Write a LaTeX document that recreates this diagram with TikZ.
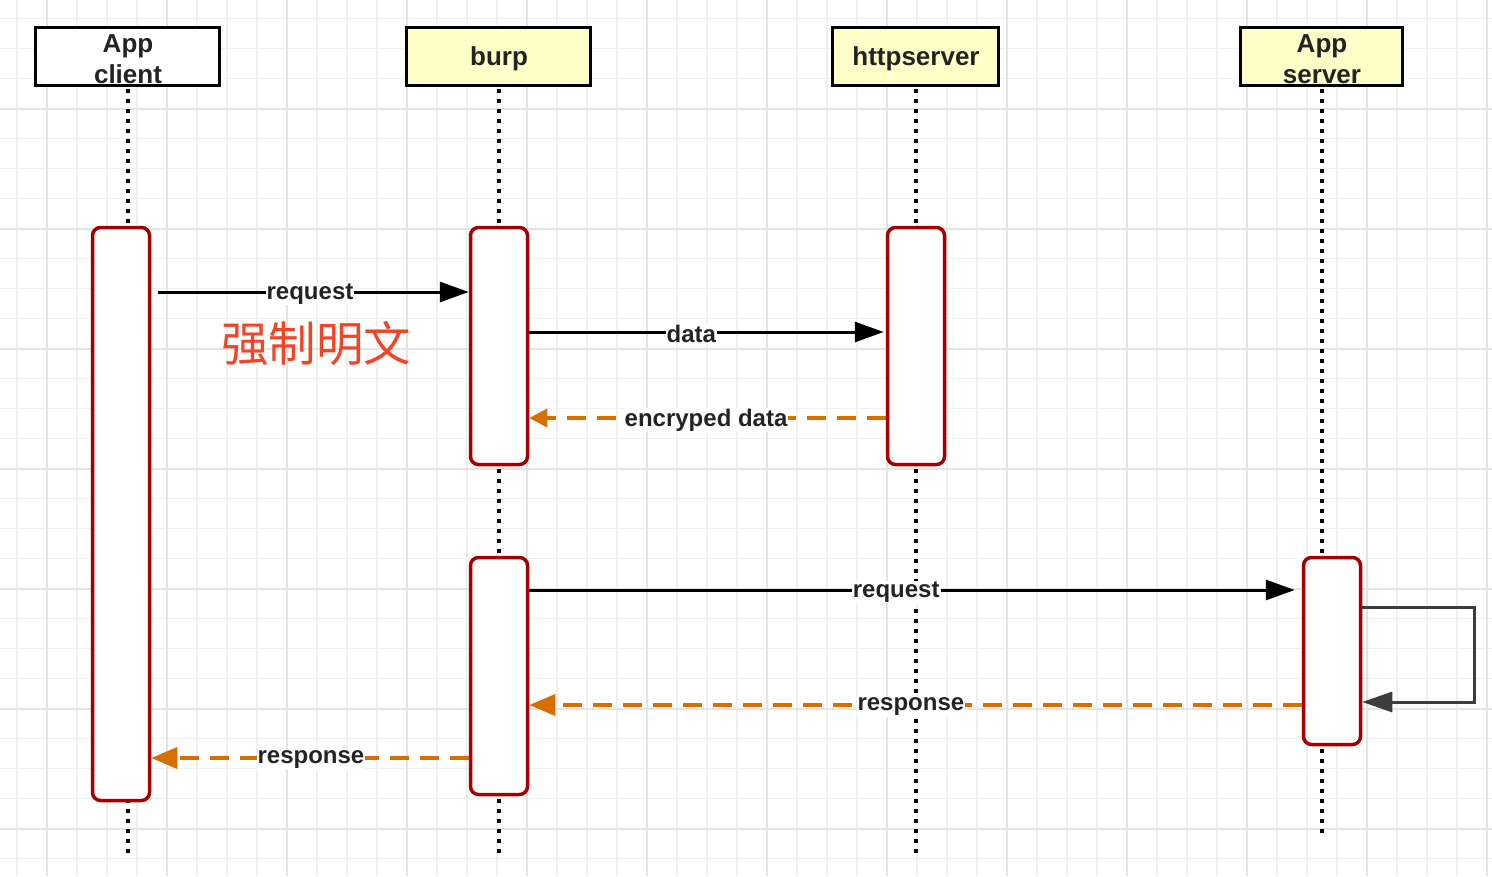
\documentclass[tikz,border=0pt]{standalone}
\usepackage{fontspec}
\setmainfont{Liberation Sans}
\newfontfamily\cjk{Noto Sans CJK SC}
\usetikzlibrary{arrows.meta}
\definecolor{gridminor}{RGB}{240,240,240}
\definecolor{gridmajor}{RGB}{228,228,228}
\definecolor{hdryellow}{RGB}{255,255,200}
\definecolor{actred}{RGB}{165,0,0}
\definecolor{rorange}{RGB}{215,110,0}
\definecolor{txtdark}{RGB}{35,35,35}
\definecolor{loopgrey}{RGB}{60,60,60}
\definecolor{cnred}{RGB}{240,70,40}
\tikzset{
  minorline/.style={draw=gridminor,line width=1.6pt},
  majorline/.style={draw=gridmajor,line width=2pt},
  hdr/.style={draw=black,line width=3.5pt,minimum height=58pt,inner sep=0pt,align=center,
    text=txtdark,font=\bfseries\fontsize{26}{31}\selectfont},
  act/.style={draw=actred,fill=white,line width=3.5pt,rounded corners=8pt,minimum width=57pt,inner sep=0pt},
  life/.style={draw=black,line width=3.5pt,dash pattern=on 3.5pt off 6.5pt},
  msg/.style={draw=black,line width=3pt,-{Triangle[length=29pt,width=20pt]}},
  ret/.style={draw=rorange,line width=3.5pt,dash pattern=on 19pt off 11pt,-{Triangle[length=26pt,width=21pt]}},
  retsmall/.style={draw=rorange,line width=3.5pt,dash pattern=on 19pt off 11pt,-{Triangle[length=18pt,width=18pt]}},
  selfmsg/.style={draw=loopgrey,line width=3pt,-{Triangle[length=30pt,width=20pt]}},
  lbl/.style={fill=white,inner sep=1pt,yshift=-2pt,text=txtdark,font=\bfseries\fontsize{24}{28}\selectfont}
}
\begin{document}
\begin{tikzpicture}[x=1pt,y=-1pt]
\useasboundingbox (0,0) rectangle (1492,876);
\fill[white] (0,0) rectangle (1492,876);
% grid
\foreach \i in {0,...,49} {\draw[minorline] ({16.7+30*\i},0) -- ({16.7+30*\i},876);}
\foreach \i in {0,...,28} {\draw[minorline] (0,{18.5+30*\i}) -- (1492,{18.5+30*\i});}
\foreach \i in {0,...,12} {\draw[majorline] ({46.7+120*\i},0) -- ({46.7+120*\i},876);}
\foreach \i in {0,...,6} {\draw[majorline] (0,{108.5+120*\i}) -- (1492,{108.5+120*\i});}
% headers
\node[hdr,fill=white,minimum width=184pt] (hc) at (127.5,56.5) {};
\node[hdr,fill=hdryellow,minimum width=184pt] (hb) at (498.5,56.5) {};
\node[hdr,fill=hdryellow,minimum width=166pt] (hh) at (915.5,56.5) {};
\node[hdr,fill=hdryellow,minimum width=162pt] (hs) at (1321.5,56.5) {};
\node[text=txtdark,font=\bfseries\fontsize{26}{31}\selectfont,align=center,inner sep=0pt] (tc) at (128,59.5) {App\\client};
\node[text=txtdark,font=\bfseries\fontsize{26}{31}\selectfont,inner sep=0pt] (tb) at (499,58.5) {burp};
\node[text=txtdark,font=\bfseries\fontsize{26}{31}\selectfont,inner sep=0pt] (th) at (916,58.5) {httpserver};
\node[text=txtdark,font=\bfseries\fontsize{26}{31}\selectfont,align=center,inner sep=0pt] (ts) at (1322,59.5) {App\\server};
% lifeline ends
\coordinate (ec) at (128,855);
\coordinate (eb) at (499,855);
\coordinate (eh) at (916,855);
\coordinate (es) at (1322,838);
\draw[life] ([xshift=0.5pt,yshift=-2pt]hc.south) -- (ec);
\draw[life] ([xshift=0.5pt,yshift=-2pt]hb.south) -- (eb);
\draw[life] ([xshift=0.5pt,yshift=-2pt]hh.south) -- (eh);
\draw[life] ([xshift=0.5pt,yshift=-2pt]hs.south) -- (es);
% activations
\node[act,minimum height=573pt] (a1) at (121,514) {};
\node[act,minimum height=237pt] (b1) at (499,346) {};
\node[act,minimum height=237pt] (h1) at (916,346) {};
\node[act,minimum height=237pt] (b2) at (499,676) {};
\node[act,minimum height=187pt] (s1) at (1332,651) {};
% messages
\draw[msg,shorten <=7pt] (a1.east |- 0,292) -- (b1.west |- 0,292) node[lbl,pos=0.5] {request};
\draw[msg] (b1.east |- 0,332) -- ([xshift=-2pt]h1.west |- 0,332) node[lbl,pos=0.457] {data};
\draw[retsmall] (h1.west |- 0,418) -- (b1.east |- 0,418) node[lbl,pos=0.504] {encryped data};
\draw[msg,shorten >=7pt] (b2.east |- 0,590) -- (s1.west |- 0,590) node[lbl,pos=0.475] {request};
\coordinate (lp1) at (1474,607);
\coordinate (lp2) at (1474,702);
\draw[selfmsg] (s1.east |- lp1) -- (lp1) -- (lp2) -- (s1.east |- lp2);
\draw[ret] (s1.west |- 0,705) -- (b2.east |- 0,705) node[lbl,pos=0.506] {response};
\draw[ret] (b2.west |- 0,758) -- (a1.east |- 0,758) node[lbl,pos=0.497] {response};
% annotation
\node[text=cnred,font=\cjk\fontsize{47.5}{52}\selectfont,inner sep=0pt] (cn) at (316,343) {强制明文};
\end{tikzpicture}
\end{document}
